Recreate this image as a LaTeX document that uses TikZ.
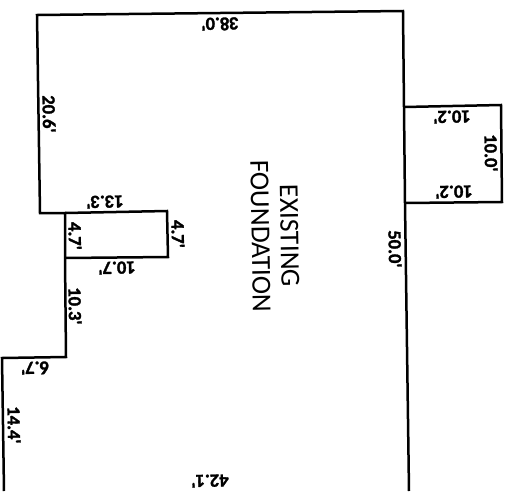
\documentclass[tikz,border=0pt]{standalone}
\usepackage{fontspec}
\setmainfont{Carlito}
\newfontfamily\dimfont[FakeBold=1.6]{Carlito Bold}
\begin{document}
\begin{tikzpicture}[x=1pt,y=-1pt,
  wall/.style={draw=black,line width=2.5pt,line join=miter},
  dim/.style={font=\fontsize{18.5}{20}\selectfont\dimfont,inner sep=0pt,text=black},
  updn/.style={dim,rotate=181},
  side/.style={dim,rotate=-89},
  title/.style={font=\fontsize{27.5}{29}\selectfont,align=center,inner sep=0pt,rotate=-89,text=black}]
\useasboundingbox (0,0) rectangle (507,491);
\coordinate (a) at (37,15);
\coordinate (b) at (403,11);
\coordinate (c) at (404,107);
\coordinate (d) at (501,105);
\coordinate (e) at (502,202);
\coordinate (f) at (405,203);
\coordinate (g) at (409,491);
\coordinate (h) at (4,491);
\coordinate (i) at (2,358);
\coordinate (j) at (66,357);
\coordinate (k) at (65,258);
\coordinate (l) at (168,257);
\coordinate (m) at (167,211);
\coordinate (n) at (65,213);
\coordinate (o) at (40,213);
\draw[wall] (g) -- (f) -- (c) -- (b) -- (a) -- (o) -- (n) -- (k) -- (j) -- (i) -- (h);
\draw[wall] (c) -- (d) -- (e) -- (f);
\draw[wall] (n) -- (m) -- (l) -- (k);
\node[updn] (t1) at (220,24) {38.0'};
\node[side] (t2) at (49,114) {20.6'};
\node[updn] (t3) at (105,202) {13.3'};
\node[side] (t4) at (75,236) {4.7'};
\node[side] (t5) at (178,234) {4.7'};
\node[updn] (t6) at (117,268) {10.7'};
\node[side] (t7) at (75,306) {10.3'};
\node[updn] (t8) at (35,368) {6.7'};
\node[side] (t9) at (14,425) {14.4'};
\node[updn] (t10) at (452,117) {10.2'};
\node[updn] (t11) at (454,192) {10.2'};
\node[side] (t12) at (491,153) {10.0'};
\node[side] (t13) at (395,249) {50.0'};
\node[updn] (t14) at (210,481) {42.1'};
\node[title] (t15) at (275,236) {EXISTING\\FOUNDATION};
\end{tikzpicture}
\end{document}
